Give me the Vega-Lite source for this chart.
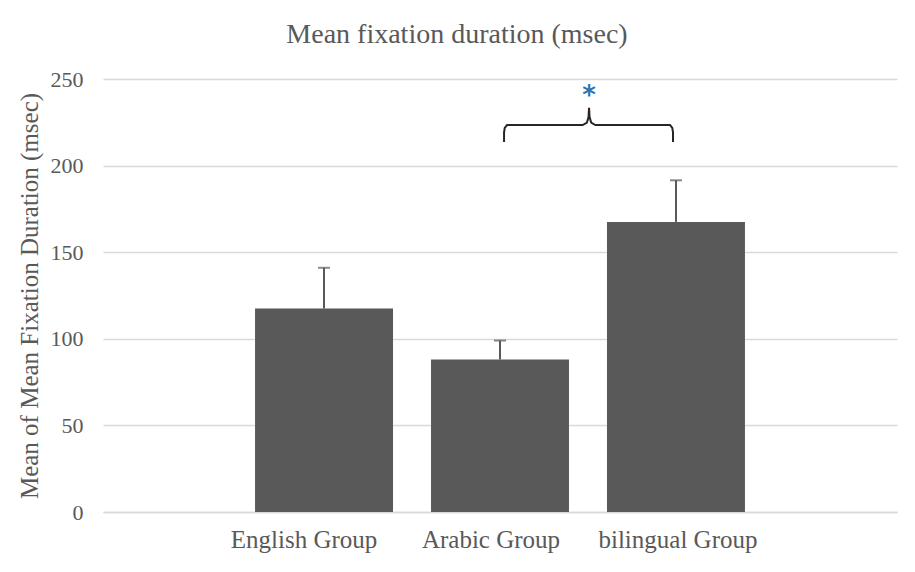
{
  "$schema": "https://vega.github.io/schema/vega-lite/v6.json",
  "width": 794,
  "height": 433,
  "autosize": {"type": "none"},
  "padding": {"left": 103, "top": 79, "right": 18, "bottom": 60},
  "background": "white",
  "title": {
    "text": "Mean fixation duration (msec)",
    "font": "Liberation Serif",
    "fontSize": 28,
    "fontWeight": "normal",
    "color": "#595959",
    "anchor": "middle",
    "baseline": "alphabetic",
    "offset": -3,
    "dx": -43
  },
  "datasets": {
    "bars": [
      {"group": "English Group", "mean": 117.5, "upper": 141},
      {"group": "Arabic Group", "mean": 88, "upper": 99},
      {"group": "bilingual Group", "mean": 167.5, "upper": 191.5}
    ],
    "bracket": [
      {"i": 0, "x": 2.023, "y": 213.6},
      {"i": 1, "x": 2.023, "y": 219.0},
      {"i": 2, "x": 2.027, "y": 221.8},
      {"i": 3, "x": 2.04, "y": 223.4},
      {"i": 4, "x": 2.47, "y": 223.4},
      {"i": 5, "x": 2.494, "y": 224.8},
      {"i": 6, "x": 2.503, "y": 228},
      {"i": 7, "x": 2.506, "y": 233.3},
      {"i": 8, "x": 2.509, "y": 228},
      {"i": 9, "x": 2.518, "y": 224.8},
      {"i": 10, "x": 2.542, "y": 223.4},
      {"i": 11, "x": 2.966, "y": 223.4},
      {"i": 12, "x": 2.979, "y": 221.8},
      {"i": 13, "x": 2.983, "y": 219.0},
      {"i": 14, "x": 2.983, "y": 213.6}
    ],
    "star": [
      {"x": 2.506, "y": 243, "label": "*"}
    ]
  },
  "config": {
    "view": {"stroke": null},
    "font": "Liberation Serif"
  },
  "encoding": {
    "y": {
      "type": "quantitative",
      "scale": {"domain": [0, 250], "nice": false, "zero": true},
      "axis": {
        "title": "Mean of Mean Fixation Duration (msec)",
        "titleFont": "Liberation Serif",
        "titleFontSize": 25,
        "titleFontWeight": "normal",
        "titleColor": "#595959",
        "titlePadding": 8,
        "values": [0, 50, 100, 150, 200, 250],
        "labelFont": "Liberation Serif",
        "labelFontSize": 22,
        "labelColor": "#595959",
        "labelPadding": 20,
        "domain": false,
        "ticks": false,
        "grid": true,
        "gridColor": "#d9d9d9",
        "gridWidth": 1.5
      }
    }
  },
  "layer": [
    {
      "data": {"name": "bars"},
      "layer": [
        {
          "mark": {"type": "bar", "color": "#595959"},
          "encoding": {
            "x": {
              "field": "group",
              "type": "nominal",
              "sort": null,
              "scale": {"paddingInner": 0.216, "paddingOuter": 0.864},
              "axis": {
                "title": null,
                "labelAngle": 0,
                "labelFont": "Liberation Serif",
                "labelFontSize": 25,
                "labelColor": "#595959",
                "labelPadding": 15,
                "labelOffset": {
                  "condition": [
                    {"test": "datum.value == 'English Group'", "value": -20},
                    {"test": "datum.value == 'Arabic Group'", "value": -9}
                  ],
                  "value": 2
                },
                "ticks": false,
                "domain": true,
                "domainColor": "#d9d9d9",
                "domainWidth": 1.5
              }
            },
            "y": {"field": "mean"}
          }
        },
        {
          "mark": {"type": "rule", "color": "#595959", "strokeWidth": 2},
          "encoding": {
            "x": {"field": "group", "type": "nominal", "sort": null},
            "y": {"field": "mean"},
            "y2": {"field": "upper"}
          }
        },
        {
          "mark": {"type": "tick", "color": "#595959", "thickness": 2, "size": 12},
          "encoding": {
            "x": {"field": "group", "type": "nominal", "sort": null},
            "y": {"field": "upper"}
          }
        }
      ]
    },
    {
      "layer": [
        {
          "data": {"name": "bracket"},
          "mark": {"type": "line", "color": "#262626", "strokeWidth": 2},
          "encoding": {
            "x": {
              "field": "x",
              "type": "quantitative",
              "scale": {"domain": [-0.2557, 4.2557], "nice": false, "zero": false},
              "axis": null
            },
            "y": {"field": "y"},
            "order": {"field": "i", "type": "quantitative"}
          }
        },
        {
          "data": {"name": "star"},
          "mark": {"type": "text", "color": "#2e75b6", "fontSize": 26, "fontWeight": "bold", "font": "DejaVu Sans", "baseline": "middle", "dy": 5},
          "encoding": {
            "x": {"field": "x", "type": "quantitative"},
            "y": {"field": "y"},
            "text": {"field": "label"}
          }
        }
      ]
    }
  ],
  "resolve": {"scale": {"x": "independent"}, "axis": {"x": "independent"}}
}
